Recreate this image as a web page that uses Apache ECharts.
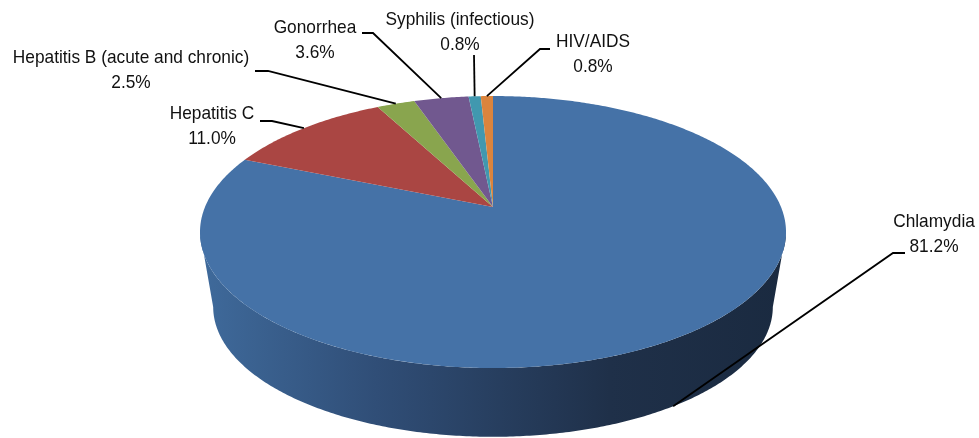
<!DOCTYPE html>
<html>
<head>
<meta charset="utf-8">
<script src="https://cdn.jsdelivr.net/npm/echarts@6/dist/echarts.min.js"></script>
<style>
  html, body { margin: 0; padding: 0; background: #fff; }
  #chart { width: 979px; height: 438px; }
</style>
</head>
<body>
<div id="chart"></div>
<script>
// data (share of reported cases, %)
const categories = ['Chlamydia', 'Hepatitis C', 'Hepatitis B (acute and chronic)', 'Gonorrhea', 'Syphilis (infectious)', 'HIV/AIDS'];
const shares = [81.2, 11.0, 2.5, 3.6, 0.8, 0.8];
const colors = ['#4572A7', '#AA4643', '#89A54E', '#71588F', '#4198AF', '#DB843D'];

// label boxes: text centre + start of leader line (elbow)
const labelLayout = [
  { x: 934, y: 234, line: [[905, 253], [893, 253]] },
  { x: 212, y: 126, line: [[260, 121], [272, 121]] },
  { x: 131, y: 70, line: [[255, 71], [268, 71]] },
  { x: 315, y: 40, line: [[362, 33], [373, 33]] },
  { x: 460, y: 32, line: [[474, 55]] },
  { x: 593, y: 54, line: [[550, 49], [540, 49]] }
];

// fake 3d projection of the pie disc
const CX = 493, CY = 207;     // centre of the top face
const A = 288, B = 131.4, K = 0.184;
const CY2 = 283, M = 0.955;   // bottom face
const total = shares.reduce((a, b) => a + b, 0);
const starts = [];
let acc = 0;
shares.forEach(v => { starts.push(acc / total * Math.PI * 2); acc += v; });

function proj(t, bottom) {
  const u = Math.sin(t), v = -Math.cos(t);
  const s = 1 / (1 - K * v);
  const m = bottom ? M : 1;
  return [CX + m * A * u * s, (bottom ? CY2 : CY) + m * B * v * s];
}

function arc(a0, a1, bottom) {
  const pts = [];
  const n = Math.max(2, Math.ceil(Math.abs(a1 - a0) / 0.01));
  for (let i = 0; i <= n; i++) pts.push(proj(a0 + (a1 - a0) * i / n, bottom));
  return pts;
}

const frontLo = Math.acos(-K), frontHi = Math.PI * 2 - Math.acos(-K);

const chart = echarts.init(document.getElementById('chart'));
chart.setOption({
  animation: false,
  series: [{
    type: 'custom',
    coordinateSystem: 'none',
    data: shares.map((v, i) => ({ name: categories[i], value: [v] })),
    renderItem: function (params, api) {
      const i = params.dataIndex;
      const a0 = starts[i];
      const a1 = a0 + api.value(0) / total * Math.PI * 2;
      const mid = (a0 + a1) / 2;
      const children = [];

      // side wall (only the front part shows)
      const lo = Math.max(a0, frontLo), hi = Math.min(a1, frontHi);
      if (hi > lo) {
        const pts = arc(lo, hi, false).concat(arc(lo, hi, true).reverse());
        children.push({
          type: 'polygon', z2: 1,
          shape: { points: pts },
          style: {
            fill: {
              type: 'linear', x: 201, y: 0, x2: 785, y2: 0, global: true,
              colorStops: [
                { offset: 0, color: '#3f6a9b' },
                { offset: 0.3, color: '#304e77' },
                { offset: 0.7, color: '#1f3049' },
                { offset: 1, color: '#1a2a40' }
              ]
            }
          }
        });
      }

      // top face
      children.push({
        type: 'polygon', z2: 2,
        shape: { points: [[CX, CY]].concat(arc(a0, a1, false)) },
        style: { fill: colors[i] }
      });

      // leader line
      const lay = labelLayout[i];
      const anchor = (mid > frontLo && mid < frontHi) ? proj(mid, true) : proj(mid, false);
      children.push({
        type: 'polyline', z2: 3,
        shape: { points: lay.line.concat([anchor]) },
        style: { stroke: '#000', lineWidth: 1.8, fill: null }
      });

      // label
      children.push({
        type: 'text', z2: 4,
        x: lay.x, y: lay.y, scaleX: 0.91,
        style: {
          text: categories[i] + '\n' + api.value(0).toFixed(1) + '%',
          x: 0, y: 0,
          align: 'center', verticalAlign: 'middle',
          font: '19px "Liberation Sans", Arial, sans-serif',
          lineHeight: 25,
          fill: '#111'
        }
      });

      return { type: 'group', children: children };
    }
  }]
});
</script>
</body>
</html>
